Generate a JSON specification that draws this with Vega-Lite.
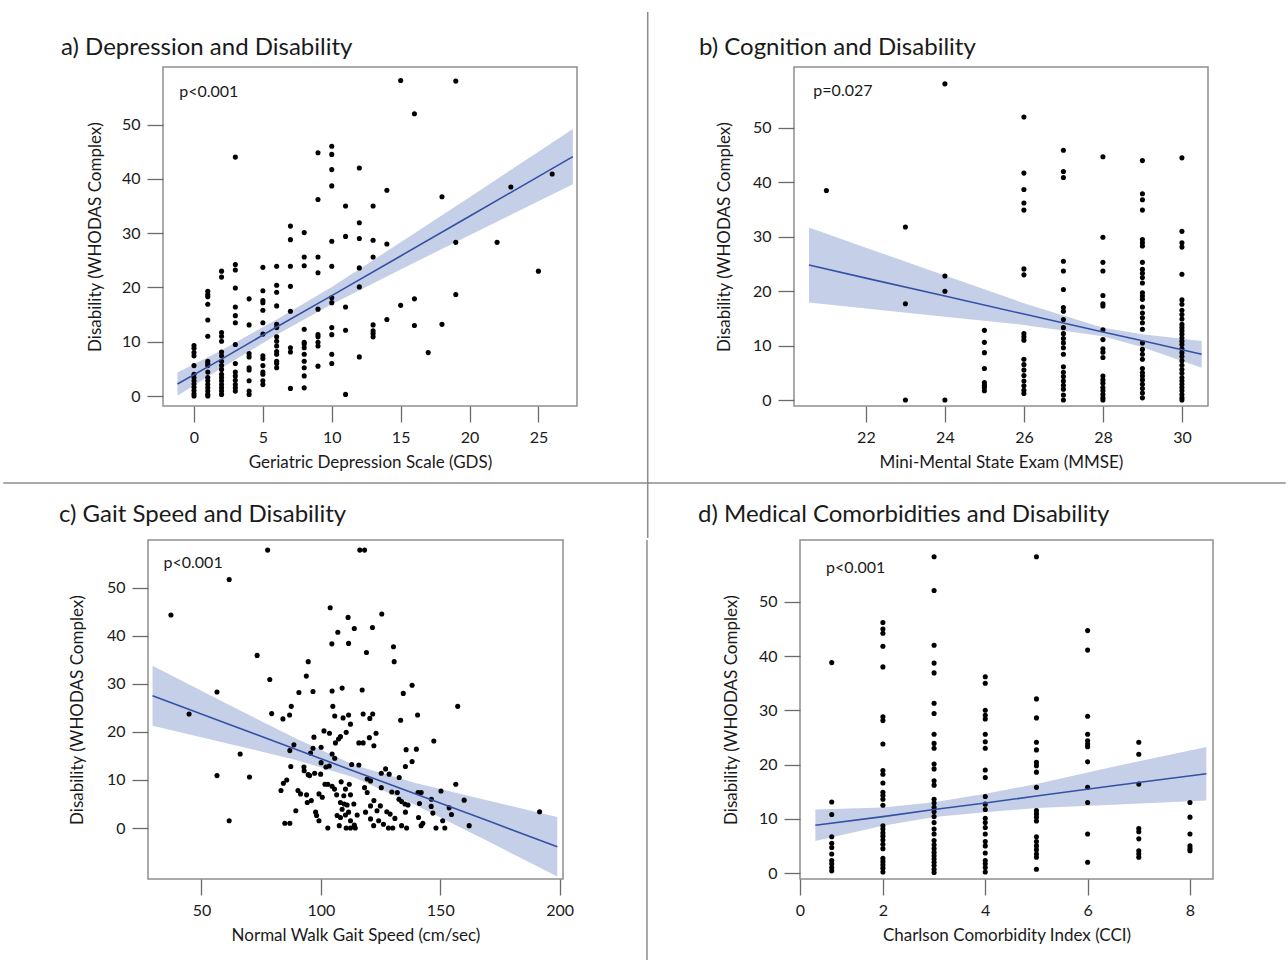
{
"$schema": "https://vega.github.io/schema/vega-lite/v6.json",
"background": "white",
"padding": {"left": 0, "top": 10, "right": 3, "bottom": 0},
"spacing": -41,
"config": {
"font": "Lato",
"view": {"stroke": "#8f8f8f", "strokeWidth": 1.5},
"axis": {"domain": false, "grid": false, "tickColor": "#6a6a6a", "tickSize": 16, "tickWidth": 1.3, "labelFont": "Lato", "labelFontSize": 16, "labelColor": "#1a1a1a", "labelPadding": 7, "labelFlush": false, "titleFont": "Lato", "titleFontSize": 17, "titleFontWeight": "normal", "titleColor": "#1a1a1a"},
"axisX": {"titlePadding": 9},
"title": {"font": "Lato", "fontSize": 24, "fontWeight": "normal", "color": "#1a1a1a", "anchor": "start", "frame": "group", "baseline": "alphabetic"}
},
"datasets": {
"gds": [
{"x":0,"y":9.3},{"x":0,"y":8.8},{"x":0,"y":8.0},{"x":0,"y":7.4},{"x":0,"y":5.6},{"x":0,"y":4.0},{"x":0,"y":3.4},{"x":0,"y":2.8},{"x":0,"y":2.2},{"x":0,"y":1.6},{"x":0,"y":1.0},{"x":0,"y":0.4},{"x":0,"y":0},
{"x":1,"y":19.3},{"x":1,"y":18.7},{"x":1,"y":18.3},{"x":1,"y":16.9},{"x":1,"y":14.0},{"x":1,"y":11.0},{"x":1,"y":6.4},{"x":1,"y":6.0},{"x":1,"y":5.6},{"x":1,"y":4.4},{"x":1,"y":3.4},{"x":1,"y":2.8},{"x":1,"y":2.1},{"x":1,"y":1.5},{"x":1,"y":0.9},{"x":1,"y":0.3},{"x":1,"y":0},
{"x":2,"y":23.0},{"x":2,"y":21.9},{"x":2,"y":11.7},{"x":2,"y":11.0},{"x":2,"y":10.1},{"x":2,"y":8.1},{"x":2,"y":7.4},{"x":2,"y":6.4},{"x":2,"y":5.6},{"x":2,"y":4.9},{"x":2,"y":4.0},{"x":2,"y":3.4},{"x":2,"y":2.8},{"x":2,"y":2.1},{"x":2,"y":1.5},{"x":2,"y":0.9},{"x":2,"y":0.3},
{"x":3,"y":44.0},{"x":3,"y":24.2},{"x":3,"y":23.2},{"x":3,"y":19.9},{"x":3,"y":16.4},{"x":3,"y":14.8},{"x":3,"y":13.5},{"x":3,"y":9.5},{"x":3,"y":6.0},{"x":3,"y":4.4},{"x":3,"y":3.7},{"x":3,"y":2.9},{"x":3,"y":2.1},{"x":3,"y":1.5},{"x":3,"y":0.9},
{"x":4,"y":17.9},{"x":4,"y":13.1},{"x":4,"y":7.8},{"x":4,"y":7.2},{"x":4,"y":5.2},{"x":4,"y":4.8},{"x":4,"y":2.8},{"x":4,"y":0.9},{"x":4,"y":0.3},
{"x":5,"y":23.7},{"x":5,"y":19.4},{"x":5,"y":17.6},{"x":5,"y":17.2},{"x":5,"y":15.8},{"x":5,"y":13.5},{"x":5,"y":11.4},{"x":5,"y":7.4},{"x":5,"y":6.9},{"x":5,"y":5.6},{"x":5,"y":4.4},{"x":5,"y":4.0},{"x":5,"y":2.8},{"x":5,"y":2.1},
{"x":6,"y":23.9},{"x":6,"y":20.4},{"x":6,"y":19.1},{"x":6,"y":16.6},{"x":6,"y":13.2},{"x":6,"y":12.6},{"x":6,"y":10.9},{"x":6,"y":10.1},{"x":6,"y":9.2},{"x":6,"y":8.2},{"x":6,"y":7.7},{"x":6,"y":6.4},{"x":6,"y":6.0},{"x":6,"y":5.2},
{"x":7,"y":31.3},{"x":7,"y":28.8},{"x":7,"y":23.9},{"x":7,"y":20.2},{"x":7,"y":15.6},{"x":7,"y":8.9},{"x":7,"y":8.1},{"x":7,"y":1.4},
{"x":8,"y":30.1},{"x":8,"y":25.6},{"x":8,"y":24.0},{"x":8,"y":12.3},{"x":8,"y":9.9},{"x":8,"y":9.6},{"x":8,"y":8.9},{"x":8,"y":7.7},{"x":8,"y":6.4},{"x":8,"y":5.2},{"x":8,"y":3.7},{"x":8,"y":1.5},
{"x":9,"y":44.8},{"x":9,"y":36.2},{"x":9,"y":25.6},{"x":9,"y":22.7},{"x":9,"y":16.0},{"x":9,"y":11.3},{"x":9,"y":10.9},{"x":9,"y":9.9},{"x":9,"y":9.2},{"x":9,"y":5.5},
{"x":10,"y":46.0},{"x":10,"y":44.5},{"x":10,"y":41.7},{"x":10,"y":38.7},{"x":10,"y":28.5},{"x":10,"y":23.9},{"x":10,"y":18.1},{"x":10,"y":17.2},{"x":10,"y":12.6},{"x":10,"y":11.3},{"x":10,"y":7.7},{"x":10,"y":6.0},
{"x":11,"y":35.0},{"x":11,"y":29.4},{"x":11,"y":16.4},{"x":11,"y":12.1},{"x":11,"y":0.3},
{"x":12,"y":42.0},{"x":12,"y":31.9},{"x":12,"y":29.0},{"x":12,"y":23.6},{"x":12,"y":20.1},{"x":12,"y":7.2},
{"x":13,"y":35.0},{"x":13,"y":28.7},{"x":13,"y":25.6},{"x":13,"y":13.1},{"x":13,"y":12.0},{"x":13,"y":11.5},{"x":13,"y":10.9},
{"x":14,"y":37.9},{"x":14,"y":28.0},{"x":14,"y":14.1},
{"x":15,"y":58.1},{"x":15,"y":16.7},
{"x":16,"y":52.0},{"x":16,"y":17.9},{"x":16,"y":13.0},
{"x":17,"y":8.0},
{"x":18,"y":36.7},{"x":18,"y":13.2},
{"x":19,"y":58.0},{"x":19,"y":28.3},{"x":19,"y":18.7},
{"x":22,"y":28.3},{"x":23,"y":38.5},{"x":25,"y":23.0},{"x":26,"y":40.9}
],
"gds_fit": [
{"x":-1.2,"fit":2.2,"lo":0.05,"hi":4.35},{"x":2,"fit":6.8,"lo":5.15,"hi":8.45},{"x":6,"fit":12.7,"lo":11.3,"hi":14.1},{"x":10,"fit":18.5,"lo":16.9,"hi":20.1},{"x":15,"fit":25.8,"lo":23.3,"hi":28.3},{"x":20,"fit":33.1,"lo":29.6,"hi":36.6},{"x":27.5,"fit":44.1,"lo":39.0,"hi":49.2}
],
"mmse": [
{"x":21,"y":38.5},
{"x":23,"y":31.8},{"x":23,"y":17.7},{"x":23,"y":0},
{"x":24,"y":58.1},{"x":24,"y":22.8},{"x":24,"y":20.0},{"x":24,"y":0},
{"x":25,"y":12.8},{"x":25,"y":10.6},{"x":25,"y":8.7},{"x":25,"y":5.8},{"x":25,"y":3.2},{"x":25,"y":2.7},{"x":25,"y":2.3},{"x":25,"y":1.7},
{"x":26,"y":52.0},{"x":26,"y":41.7},{"x":26,"y":38.7},{"x":26,"y":36.2},{"x":26,"y":34.9},{"x":26,"y":24.1},{"x":26,"y":23.0},{"x":26,"y":12.2},{"x":26,"y":11.6},{"x":26,"y":11.0},{"x":26,"y":7.5},{"x":26,"y":6.5},{"x":26,"y":5.5},{"x":26,"y":4.5},{"x":26,"y":3.5},{"x":26,"y":2.6},{"x":26,"y":1.8},{"x":26,"y":1.2},
{"x":27,"y":45.9},{"x":27,"y":42.0},{"x":27,"y":40.9},{"x":27,"y":25.5},{"x":27,"y":23.7},{"x":27,"y":20.3},{"x":27,"y":17.0},{"x":27,"y":16.3},{"x":27,"y":14.8},{"x":27,"y":13.3},{"x":27,"y":12.2},{"x":27,"y":11.3},{"x":27,"y":10.5},{"x":27,"y":9.6},{"x":27,"y":8.4},{"x":27,"y":6.1},{"x":27,"y":5.1},{"x":27,"y":4.3},{"x":27,"y":3.5},{"x":27,"y":2.7},{"x":27,"y":2.0},{"x":27,"y":0.9},{"x":27,"y":0},
{"x":28,"y":44.7},{"x":28,"y":29.9},{"x":28,"y":25.3},{"x":28,"y":23.7},{"x":28,"y":19.2},{"x":28,"y":17.7},{"x":28,"y":17.3},{"x":28,"y":12.9},{"x":28,"y":11.1},{"x":28,"y":9.4},{"x":28,"y":8.8},{"x":28,"y":7.8},{"x":28,"y":4.4},{"x":28,"y":3.7},{"x":28,"y":3.1},{"x":28,"y":2.3},{"x":28,"y":1.7},{"x":28,"y":1.0},{"x":28,"y":0.4},{"x":28,"y":0},
{"x":29,"y":44.0},{"x":29,"y":37.9},{"x":29,"y":36.8},{"x":29,"y":34.9},{"x":29,"y":29.5},{"x":29,"y":28.9},{"x":29,"y":28.3},{"x":29,"y":25.3},{"x":29,"y":24.0},{"x":29,"y":23.3},{"x":29,"y":22.5},{"x":29,"y":21.5},{"x":29,"y":19.7},{"x":29,"y":19.1},{"x":29,"y":18.5},{"x":29,"y":17.1},{"x":29,"y":16.0},{"x":29,"y":15.1},{"x":29,"y":14.2},{"x":29,"y":13.0},{"x":29,"y":10.5},{"x":29,"y":9.3},{"x":29,"y":8.4},{"x":29,"y":7.5},{"x":29,"y":5.8},{"x":29,"y":5.0},{"x":29,"y":4.4},{"x":29,"y":3.7},{"x":29,"y":2.9},{"x":29,"y":2.1},{"x":29,"y":1.3},{"x":29,"y":0.4},
{"x":30,"y":44.5},{"x":30,"y":31.0},{"x":30,"y":28.9},{"x":30,"y":28.1},{"x":30,"y":23.1},{"x":30,"y":18.4},{"x":30,"y":17.6},{"x":30,"y":16.5},{"x":30,"y":15.7},{"x":30,"y":14.9},{"x":30,"y":13.9},{"x":30,"y":13.3},{"x":30,"y":12.7},{"x":30,"y":12.1},{"x":30,"y":11.4},{"x":30,"y":10.8},{"x":30,"y":10.2},{"x":30,"y":9.4},{"x":30,"y":8.7},{"x":30,"y":8.0},{"x":30,"y":7.2},{"x":30,"y":6.4},{"x":30,"y":5.6},{"x":30,"y":4.9},{"x":30,"y":4.1},{"x":30,"y":3.5},{"x":30,"y":2.9},{"x":30,"y":2.3},{"x":30,"y":1.7},{"x":30,"y":1.0},{"x":30,"y":0.4},{"x":30,"y":0}
],
"mmse_fit": [
{"x":20.56,"fit":24.8,"lo":17.9,"hi":31.7},{"x":22,"fit":22.4,"lo":16.8,"hi":28.0},{"x":24,"fit":19.1,"lo":15.3,"hi":22.9},{"x":26,"fit":15.8,"lo":13.8,"hi":17.8},{"x":28,"fit":12.5,"lo":11.7,"hi":13.3},{"x":29,"fit":10.9,"lo":9.7,"hi":12.1},{"x":30.5,"fit":8.4,"lo":5.95,"hi":10.85}
],
"gait": [
{"x":37.2,"y":44.3},{"x":44.8,"y":23.7},{"x":56.5,"y":28.3},{"x":61.6,"y":51.7},{"x":56.5,"y":10.9},{"x":61.6,"y":1.5},{"x":66.2,"y":15.4},{"x":70.1,"y":10.6},{"x":73.3,"y":35.9},{"x":77.7,"y":57.8},{"x":78.6,"y":30.9},{"x":79.4,"y":23.8},{"x":84.1,"y":22.7},{"x":86.9,"y":23.5},{"x":87.6,"y":25.3},{"x":90.8,"y":28.2},{"x":93.9,"y":31.6},{"x":94.7,"y":34.6},{"x":96.7,"y":28.4},{"x":103.9,"y":45.8},{"x":104.6,"y":38.3},{"x":107.1,"y":40.7},{"x":111.4,"y":43.8},{"x":111.6,"y":38.4},{"x":114.0,"y":41.5},{"x":116.3,"y":57.8},{"x":104.7,"y":28.5},{"x":108.9,"y":29.1},{"x":105.0,"y":25.3},{"x":105.8,"y":23.3},{"x":109.3,"y":22.9},{"x":111.6,"y":23.5},{"x":112.4,"y":21.6},{"x":101.3,"y":20.2},{"x":103.6,"y":19.7},{"x":97.1,"y":18.9},{"x":107.4,"y":18.5},{"x":108.2,"y":19.0},{"x":110.6,"y":19.9},{"x":106.1,"y":17.7},{"x":115.9,"y":17.7},{"x":88.7,"y":17.3},{"x":87.0,"y":16.1},{"x":96.7,"y":16.6},{"x":95.7,"y":15.6},{"x":100.1,"y":16.8},{"x":104.7,"y":15.4},{"x":105.8,"y":14.5},{"x":100.1,"y":13.6},{"x":102.1,"y":12.7},{"x":103.5,"y":12.9},{"x":112.9,"y":13.2},{"x":115.9,"y":13.1},{"x":87.4,"y":12.8},{"x":92.9,"y":12.7},{"x":93.0,"y":11.9},{"x":94.7,"y":11.1},{"x":97.4,"y":11.4},{"x":99.9,"y":11.2},{"x":95.3,"y":10.9},{"x":85.7,"y":10.0},{"x":84.3,"y":9.3},{"x":83.3,"y":7.8},{"x":90.4,"y":7.8},{"x":91.5,"y":7.1},{"x":94.0,"y":6.9},{"x":94.3,"y":5.3},{"x":96.0,"y":5.7},{"x":89.5,"y":3.6},{"x":84.9,"y":1.0},{"x":87.0,"y":1.0},{"x":97.8,"y":3.3},{"x":98.2,"y":2.6},{"x":99.2,"y":1.5},{"x":99.2,"y":7.1},{"x":100.6,"y":6.4},{"x":101.7,"y":9.1},{"x":102.9,"y":9.1},{"x":104.7,"y":8.7},{"x":105.7,"y":8.1},{"x":108.5,"y":9.6},{"x":110.3,"y":8.1},{"x":111.9,"y":9.1},{"x":106.6,"y":6.9},{"x":109.6,"y":6.7},{"x":112.4,"y":6.9},{"x":108.2,"y":5.3},{"x":109.8,"y":5.0},{"x":111.0,"y":4.8},{"x":108.9,"y":3.9},{"x":113.8,"y":5.0},{"x":106.8,"y":2.6},{"x":108.2,"y":2.2},{"x":110.3,"y":2.7},{"x":111.6,"y":3.3},{"x":112.4,"y":1.5},{"x":115.2,"y":2.7},{"x":102.9,"y":0},{"x":107.7,"y":0.5},{"x":110.6,"y":0},{"x":112.4,"y":0},{"x":114.4,"y":0},{"x":114.0,"y":0.6},
{"x":118.3,"y":57.8},{"x":125.5,"y":44.5},{"x":121.6,"y":41.7},{"x":119.1,"y":36.5},{"x":130.4,"y":37.7},{"x":130.7,"y":34.6},{"x":138.2,"y":29.7},{"x":134.5,"y":28.0},{"x":117.3,"y":28.7},{"x":157.3,"y":25.3},{"x":140.5,"y":23.5},{"x":133.4,"y":22.4},{"x":117.7,"y":23.7},{"x":121.7,"y":23.7},{"x":120.5,"y":22.8},{"x":123.1,"y":19.7},{"x":120.3,"y":18.8},{"x":117.7,"y":17.7},{"x":122.2,"y":17.1},{"x":147.3,"y":18.1},{"x":135.7,"y":16.3},{"x":140.0,"y":16.4},{"x":138.2,"y":13.8},{"x":135.4,"y":12.8},{"x":127.1,"y":12.3},{"x":125.3,"y":11.4},{"x":128.6,"y":11.2},{"x":132.8,"y":10.5},{"x":119.4,"y":10.2},{"x":120.8,"y":9.8},{"x":125.3,"y":8.4},{"x":129.7,"y":7.5},{"x":132.0,"y":7.4},{"x":140.7,"y":7.4},{"x":142.0,"y":7.4},{"x":150.3,"y":7.7},{"x":156.5,"y":9.1},{"x":160.0,"y":5.8},{"x":146.3,"y":6.0},{"x":141.3,"y":5.1},{"x":146.2,"y":4.5},{"x":153.7,"y":4.2},{"x":154.7,"y":2.8},{"x":146.9,"y":3.1},{"x":132.7,"y":6.0},{"x":133.8,"y":5.5},{"x":135.2,"y":5.0},{"x":136.5,"y":4.8},{"x":135.4,"y":3.3},{"x":124.9,"y":4.6},{"x":127.6,"y":3.4},{"x":129.0,"y":2.9},{"x":131.0,"y":2.0},{"x":124.2,"y":1.5},{"x":126.2,"y":0.8},{"x":128.3,"y":0},{"x":130.1,"y":0},{"x":133.8,"y":0.5},{"x":135.9,"y":0},{"x":140.9,"y":2.2},{"x":142.0,"y":0.5},{"x":142.7,"y":1.0},{"x":148.2,"y":0},{"x":151.0,"y":1.5},{"x":151.9,"y":0},{"x":162.1,"y":0.5},{"x":191.6,"y":3.4},{"x":119.4,"y":7.4},{"x":122.2,"y":5.7},{"x":120.8,"y":4.6},{"x":118.7,"y":3.3},{"x":120.8,"y":1.9},{"x":122.1,"y":0.5},{"x":123.5,"y":3.6},{"x":118.3,"y":8.4}
],
"gait_fit": [
{"x":29.5,"fit":27.5,"lo":21.25,"hi":33.75},{"x":60,"fit":21.85,"lo":17.7,"hi":26.0},{"x":90,"fit":16.3,"lo":14.1,"hi":18.5},{"x":114,"fit":11.8,"lo":10.5,"hi":13.1},{"x":140,"fit":7.0,"lo":4.7,"hi":9.3},{"x":170,"fit":1.5,"lo":-2.75,"hi":5.75},{"x":199,"fit":-3.9,"lo":-10.1,"hi":2.3}
],
"cci": [
{"x":1,"y":38.8},{"x":1,"y":13.1},{"x":1,"y":10.8},{"x":1,"y":6.7},{"x":1,"y":5.5},{"x":1,"y":4.7},{"x":1,"y":3.5},{"x":1,"y":2.3},{"x":1,"y":1.7},{"x":1,"y":1.0},{"x":1,"y":0.4},
{"x":2,"y":46.2},{"x":2,"y":45.0},{"x":2,"y":44.2},{"x":2,"y":41.8},{"x":2,"y":38.0},{"x":2,"y":28.8},{"x":2,"y":28.1},{"x":2,"y":23.8},{"x":2,"y":18.9},{"x":2,"y":18.2},{"x":2,"y":16.6},{"x":2,"y":14.9},{"x":2,"y":14.3},{"x":2,"y":13.6},{"x":2,"y":12.5},{"x":2,"y":8.7},{"x":2,"y":8.1},{"x":2,"y":7.4},{"x":2,"y":6.8},{"x":2,"y":6.1},{"x":2,"y":5.3},{"x":2,"y":4.5},{"x":2,"y":2.7},{"x":2,"y":2.1},{"x":2,"y":1.5},{"x":2,"y":0.9},{"x":2,"y":0.2},
{"x":3,"y":58.3},{"x":3,"y":52.1},{"x":3,"y":42.0},{"x":3,"y":38.7},{"x":3,"y":36.9},{"x":3,"y":31.3},{"x":3,"y":29.4},{"x":3,"y":25.6},{"x":3,"y":23.9},{"x":3,"y":23.0},{"x":3,"y":20.1},{"x":3,"y":19.2},{"x":3,"y":17.0},{"x":3,"y":16.2},{"x":3,"y":13.6},{"x":3,"y":12.9},{"x":3,"y":12.1},{"x":3,"y":11.3},{"x":3,"y":10.4},{"x":3,"y":9.3},{"x":3,"y":8.1},{"x":3,"y":7.2},{"x":3,"y":6.0},{"x":3,"y":5.2},{"x":3,"y":4.5},{"x":3,"y":3.8},{"x":3,"y":3.2},{"x":3,"y":2.6},{"x":3,"y":2.0},{"x":3,"y":1.4},{"x":3,"y":0.7},{"x":3,"y":0.1},
{"x":4,"y":36.2},{"x":4,"y":35.0},{"x":4,"y":30.0},{"x":4,"y":29.1},{"x":4,"y":28.4},{"x":4,"y":25.6},{"x":4,"y":24.2},{"x":4,"y":23.0},{"x":4,"y":19.0},{"x":4,"y":17.6},{"x":4,"y":14.1},{"x":4,"y":12.7},{"x":4,"y":11.7},{"x":4,"y":10.1},{"x":4,"y":9.3},{"x":4,"y":8.4},{"x":4,"y":7.2},{"x":4,"y":5.8},{"x":4,"y":5.0},{"x":4,"y":3.7},{"x":4,"y":2.3},{"x":4,"y":1.7},{"x":4,"y":1.0},{"x":4,"y":0.2},
{"x":5,"y":58.3},{"x":5,"y":32.1},{"x":5,"y":28.6},{"x":5,"y":24.1},{"x":5,"y":22.7},{"x":5,"y":20.4},{"x":5,"y":19.8},{"x":5,"y":18.6},{"x":5,"y":15.8},{"x":5,"y":11.5},{"x":5,"y":10.9},{"x":5,"y":10.3},{"x":5,"y":9.6},{"x":5,"y":6.7},{"x":5,"y":5.8},{"x":5,"y":5.0},{"x":5,"y":4.3},{"x":5,"y":3.5},{"x":5,"y":2.9},{"x":5,"y":0.7},
{"x":6,"y":44.7},{"x":6,"y":41.1},{"x":6,"y":28.9},{"x":6,"y":25.6},{"x":6,"y":24.4},{"x":6,"y":23.8},{"x":6,"y":23.3},{"x":6,"y":20.5},{"x":6,"y":15.8},{"x":6,"y":13.0},{"x":6,"y":7.2},{"x":6,"y":2.0},
{"x":7,"y":24.1},{"x":7,"y":21.9},{"x":7,"y":16.4},{"x":7,"y":8.2},{"x":7,"y":7.6},{"x":7,"y":6.3},{"x":7,"y":4.1},{"x":7,"y":3.5},{"x":7,"y":2.9},
{"x":8,"y":13.0},{"x":8,"y":10.3},{"x":8,"y":7.2},{"x":8,"y":5.0},{"x":8,"y":4.5},{"x":8,"y":4.1}
],
"cci_fit": [
{"x":0.68,"fit":8.8,"lo":5.9,"hi":11.7},{"x":2,"fit":10.4,"lo":8.7,"hi":12.1},{"x":3,"fit":11.7,"lo":10.35,"hi":13.05},{"x":4,"fit":12.9,"lo":11.2,"hi":14.6},{"x":5,"fit":14.2,"lo":12.0,"hi":16.4},{"x":6.5,"fit":16.1,"lo":12.6,"hi":19.6},{"x":8.32,"fit":18.3,"lo":13.35,"hi":23.25}
],
"blank": [{"k": 0}]
},
"vconcat": [
{
"spacing": -5,
"hconcat": [
{
"spacing": 0,
"hconcat": [
{"width": 1, "height": 1, "view": {"stroke": null}, "data": {"name": "blank"}, "mark": {"type": "point", "size": 0, "opacity": 0}},
{
"width": 414, "height": 339,
"title": {"text": "a) Depression and Disability", "dx": -102, "offset": 7},
"layer": [
{"data": {"name": "gds_fit"}, "mark": {"type": "area", "color": "#c6cfe8", "opacity": 1, "clip": true},
"encoding": {
"x": {"field": "x", "type": "quantitative", "title": "Geriatric Depression Scale (GDS)", "scale": {"domain": [-2.25, 27.8], "nice": false, "zero": false}, "axis": {"values": [0, 5, 10, 15, 20, 25]}},
"y": {"field": "lo", "type": "quantitative", "title": "Disability (WHODAS Complex)", "scale": {"domain": [-1.84, 60.6], "nice": false, "zero": false}, "axis": {"values": [0, 10, 20, 30, 40, 50], "titlePadding": 17}},
"y2": {"field": "hi"}}},
{"data": {"name": "gds"}, "mark": {"type": "circle", "color": "#000000", "size": 26, "opacity": 1},
"encoding": {
"x": {"field": "x", "type": "quantitative", "title": "Geriatric Depression Scale (GDS)"},
"y": {"field": "y", "type": "quantitative", "title": "Disability (WHODAS Complex)"}}},
{"data": {"name": "gds_fit"}, "mark": {"type": "line", "color": "#3451a3", "strokeWidth": 1.6, "clip": true},
"encoding": {
"x": {"field": "x", "type": "quantitative", "title": "Geriatric Depression Scale (GDS)"},
"y": {"field": "fit", "type": "quantitative", "title": "Disability (WHODAS Complex)"}}},
{"data": {"values": [{"label": "p<0.001"}]}, "mark": {"type": "text", "align": "left", "baseline": "alphabetic", "fontSize": 16, "font": "Lato", "color": "#1a1a1a"},
"encoding": {
"x": {"datum": -1.07, "type": "quantitative"},
"y": {"datum": 55.0, "type": "quantitative"},
"text": {"field": "label"}}},
{"data": {"name": "blank"}, "mark": {"type": "rule", "color": "#8c8c8c", "strokeWidth": 1.5, "clip": false},
"encoding": {
"x": {"datum": -13.84, "type": "quantitative"},
"x2": {"datum": 33.05},
"y": {"datum": -16.0, "type": "quantitative"}}}
]
}
]
},
{
"width": 414, "height": 339,
"title": {"text": "b) Cognition and Disability", "dx": -95, "offset": -49},
"layer": [
{"data": {"name": "mmse_fit"}, "mark": {"type": "area", "color": "#c6cfe8", "opacity": 1, "clip": true},
"encoding": {
"x": {"field": "x", "type": "quantitative", "title": "Mini-Mental State Exam (MMSE)", "scale": {"domain": [20.18, 30.66], "nice": false, "zero": false}, "axis": {"values": [22, 24, 26, 28, 30]}},
"y": {"field": "lo", "type": "quantitative", "title": "Disability (WHODAS Complex)", "scale": {"domain": [-1.1, 61.2], "nice": false, "zero": false}, "axis": {"values": [0, 10, 20, 30, 40, 50], "titlePadding": 19}},
"y2": {"field": "hi"}}},
{"data": {"name": "mmse"}, "mark": {"type": "circle", "color": "#000000", "size": 26, "opacity": 1},
"encoding": {
"x": {"field": "x", "type": "quantitative", "title": "Mini-Mental State Exam (MMSE)"},
"y": {"field": "y", "type": "quantitative", "title": "Disability (WHODAS Complex)"}}},
{"data": {"name": "mmse_fit"}, "mark": {"type": "line", "color": "#3451a3", "strokeWidth": 1.6, "clip": true},
"encoding": {
"x": {"field": "x", "type": "quantitative", "title": "Mini-Mental State Exam (MMSE)"},
"y": {"field": "fit", "type": "quantitative", "title": "Disability (WHODAS Complex)"}}},
{"data": {"values": [{"label": "p=0.027"}]}, "mark": {"type": "text", "align": "left", "baseline": "alphabetic", "fontSize": 16, "font": "Lato", "color": "#1a1a1a"},
"encoding": {
"x": {"datum": 20.67, "type": "quantitative"},
"y": {"datum": 55.8, "type": "quantitative"},
"text": {"field": "label"}}},
{"data": {"name": "blank"}, "mark": {"type": "rule", "color": "#8c8c8c", "strokeWidth": 1.5, "clip": false},
"encoding": {
"x": {"datum": 16.477, "type": "quantitative"},
"y": {"datum": 71.3, "type": "quantitative"},
"y2": {"datum": -25.36}}},
{"data": {"name": "blank"}, "mark": {"type": "rule", "color": "#8c8c8c", "strokeWidth": 1.5, "clip": false},
"encoding": {
"x": {"datum": 16.477, "type": "quantitative"},
"x2": {"datum": 32.627},
"y": {"datum": -15.25, "type": "quantitative"}}}
]
}
]
},
{
"spacing": 70,
"hconcat": [
{
"spacing": 57,
"hconcat": [
{"width": 1, "height": 1, "view": {"stroke": null}, "data": {"name": "blank"}, "mark": {"type": "point", "size": 0, "opacity": 0}},
{
"width": 415, "height": 339,
"title": {"text": "c) Gait Speed and Disability", "dx": -89, "offset": 13},
"layer": [
{"data": {"name": "gait_fit"}, "mark": {"type": "area", "color": "#c6cfe8", "opacity": 1, "clip": true},
"encoding": {
"x": {"field": "x", "type": "quantitative", "title": "Normal Walk Gait Speed (cm/sec)", "scale": {"domain": [27.6, 201.4], "nice": false, "zero": false}, "axis": {"values": [50, 100, 150, 200]}},
"y": {"field": "lo", "type": "quantitative", "title": "Disability (WHODAS Complex)", "scale": {"domain": [-10.6, 59.9], "nice": false, "zero": false}, "axis": {"values": [0, 10, 20, 30, 40, 50], "titlePadding": 20}},
"y2": {"field": "hi"}}},
{"data": {"name": "gait"}, "mark": {"type": "circle", "color": "#000000", "size": 26, "opacity": 1},
"encoding": {
"x": {"field": "x", "type": "quantitative", "title": "Normal Walk Gait Speed (cm/sec)"},
"y": {"field": "y", "type": "quantitative", "title": "Disability (WHODAS Complex)"}}},
{"data": {"name": "gait_fit"}, "mark": {"type": "line", "color": "#3451a3", "strokeWidth": 1.6, "clip": true},
"encoding": {
"x": {"field": "x", "type": "quantitative", "title": "Normal Walk Gait Speed (cm/sec)"},
"y": {"field": "fit", "type": "quantitative", "title": "Disability (WHODAS Complex)"}}},
{"data": {"values": [{"label": "p<0.001"}]}, "mark": {"type": "text", "align": "left", "baseline": "alphabetic", "fontSize": 16, "font": "Lato", "color": "#1a1a1a"},
"encoding": {
"x": {"datum": 34.1, "type": "quantitative"},
"y": {"datum": 54.05, "type": "quantitative"},
"text": {"field": "label"}}}
]
}
]
},
{
"width": 413, "height": 339,
"title": {"text": "d) Medical Comorbidities and Disability", "dx": -102, "offset": 12},
"layer": [
{"data": {"name": "cci_fit"}, "mark": {"type": "area", "color": "#c6cfe8", "opacity": 1, "clip": true},
"encoding": {
"x": {"field": "x", "type": "quantitative", "title": "Charlson Comorbidity Index (CCI)", "scale": {"domain": [0.38, 8.45], "nice": false, "zero": false}, "axis": {"values": [0.38, 2, 4, 6, 8], "labelExpr": "datum.value < 1 ? '0' : datum.label"}},
"y": {"field": "lo", "type": "quantitative", "title": "Disability (WHODAS Complex)", "scale": {"domain": [-1.1, 61.4], "nice": false, "zero": false}, "axis": {"values": [0, 10, 20, 30, 40, 50], "titlePadding": 18}},
"y2": {"field": "hi"}}},
{"data": {"name": "cci"}, "mark": {"type": "circle", "color": "#000000", "size": 26, "opacity": 1},
"encoding": {
"x": {"field": "x", "type": "quantitative", "title": "Charlson Comorbidity Index (CCI)"},
"y": {"field": "y", "type": "quantitative", "title": "Disability (WHODAS Complex)"}}},
{"data": {"name": "cci_fit"}, "mark": {"type": "line", "color": "#3451a3", "strokeWidth": 1.6, "clip": true},
"encoding": {
"x": {"field": "x", "type": "quantitative", "title": "Charlson Comorbidity Index (CCI)"},
"y": {"field": "fit", "type": "quantitative", "title": "Disability (WHODAS Complex)"}}},
{"data": {"values": [{"label": "p<0.001"}]}, "mark": {"type": "text", "align": "left", "baseline": "alphabetic", "fontSize": 16, "font": "Lato", "color": "#1a1a1a"},
"encoding": {
"x": {"datum": 0.89, "type": "quantitative"},
"y": {"datum": 55.3, "type": "quantitative"},
"text": {"field": "label"}}},
{"data": {"name": "blank"}, "mark": {"type": "rule", "color": "#8c8c8c", "strokeWidth": 1.5, "clip": false},
"encoding": {
"x": {"datum": -2.61, "type": "quantitative"},
"y": {"datum": 61.4, "type": "quantitative"},
"y2": {"datum": -16.64}}}
]
}
]
}
]
}
